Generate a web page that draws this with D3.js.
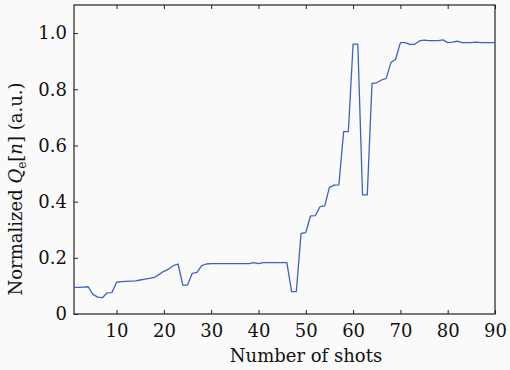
<!DOCTYPE html>
<html><head><meta charset="utf-8">
<script src="https://cdn.jsdelivr.net/npm/d3@7"></script>
<style>
html,body{margin:0;padding:0;background:#fafafa;}
svg{display:block;}
text{font-family:"DejaVu Serif","Liberation Serif",serif;fill:#111;}
</style></head>
<body><svg id="c" width="510" height="370"></svg>
<script>
const shots = d3.range(1, 91);
const qe = [
0.095,0.095,0.096,0.097,0.070,0.060,0.058,0.075,0.076,0.113,
0.115,0.116,0.117,0.118,0.121,0.124,0.127,0.130,0.141,0.152,
0.160,0.172,0.178,0.103,0.103,0.145,0.148,0.172,0.178,0.179,
0.179,0.179,0.179,0.179,0.179,0.179,0.179,0.179,0.183,0.179,
0.183,0.183,0.183,0.183,0.183,0.183,0.080,0.080,0.287,0.290,
0.349,0.350,0.382,0.385,0.451,0.459,0.460,0.649,0.649,0.961,
0.961,0.424,0.424,0.821,0.823,0.833,0.839,0.895,0.907,0.966,
0.966,0.960,0.960,0.972,0.975,0.973,0.973,0.973,0.976,0.966,
0.968,0.971,0.966,0.966,0.966,0.968,0.966,0.966,0.966,0.966];
const xTicks = [10,20,30,40,50,60,70,80,90];
const yTicks = [0,0.2,0.4,0.6,0.8,1.0];
const yTickLabels = ["0","0.2","0.4","0.6","0.8","1.0"];

const L=74, R=495, T=5, B=314;
const svg = d3.select("#c");
const x = d3.scaleLinear().domain([1,90]).range([L,R]);
const y = d3.scaleLinear().domain([0,1.1]).range([B,T]);

const gb = svg.append("g").attr("transform",`translate(0,${B})`)
  .call(d3.axisBottom(x).tickValues(xTicks).tickSizeInner(-4).tickSizeOuter(0).tickPadding(10));
const gl = svg.append("g").attr("transform",`translate(${L},0)`)
  .call(d3.axisLeft(y).tickValues(yTicks).tickFormat((d,i)=>yTickLabels[i]).tickSizeInner(-4).tickSizeOuter(0).tickPadding(7));
const gt = svg.append("g").attr("transform",`translate(0,${T})`)
  .call(d3.axisTop(x).tickValues(xTicks).tickSizeInner(-4).tickSizeOuter(0).tickFormat(""));
[gb,gl,gt].forEach(g=>{
  g.select(".domain").remove();
  g.selectAll("line").attr("stroke","#222").attr("stroke-width",1);
  g.selectAll("text").style("font-size","18px").style("font-family","DejaVu Serif, serif").attr("fill","#111");
});
gb.selectAll("text").attr("dy","0.71em");
svg.append("rect").attr("x",L).attr("y",T).attr("width",R-L).attr("height",B-T)
  .attr("fill","none").attr("stroke","#222").attr("stroke-width",1.2);

const line = d3.line().x((d,i)=>x(shots[i])).y(d=>y(d));
svg.append("path").datum(qe).attr("d",line).attr("fill","none")
  .attr("stroke","#3b63c6").attr("stroke-width",1.3).attr("stroke-linejoin","round");

svg.append("text").attr("x",306).attr("y",362).attr("text-anchor","middle")
  .style("font-size","18px").text("Number of shots");

const yl = svg.append("text").attr("transform","translate(22,189) rotate(-90)")
  .attr("text-anchor","middle").style("font-size","18px");
yl.append("tspan").text("Normalized ");
yl.append("tspan").attr("font-style","italic").text("Q");
yl.append("tspan").attr("dy",4).style("font-size","12px").text("e");
yl.append("tspan").attr("dy",-4).text("[");
yl.append("tspan").attr("font-style","italic").text("n");
yl.append("tspan").text("] (a.u.)");
</script></body></html>
